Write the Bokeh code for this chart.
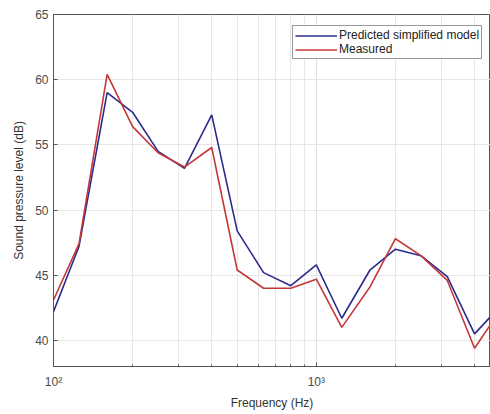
from bokeh.plotting import figure
from bokeh.models import FixedTicker, Range1d, Legend, LegendItem
from bokeh.embed import file_html
from bokeh.resources import INLINE

freq = [100, 125, 160, 200, 250, 315, 400, 500, 630, 800, 1000, 1250, 1600, 2000, 2500, 3150, 4000, 5000]
predicted = [42.2, 47.2, 59.0, 57.5, 54.5, 53.2, 57.3, 48.4, 45.2, 44.2, 45.8, 41.7, 45.4, 47.0, 46.5, 44.9, 40.5, 42.6]
measured = [43.1, 47.4, 60.4, 56.4, 54.4, 53.3, 54.8, 45.4, 44.0, 44.0, 44.7, 41.0, 44.1, 47.8, 46.5, 44.6, 39.4, 42.3]

x_major = [100, 1000]
x_minor = [200, 300, 400, 500, 600, 700, 800, 900, 2000, 3000, 4000]
x_labels = {100: "10²", 1000: "10³"}
y_ticks = [40, 45, 50, 55, 60, 65]

FONT = "Liberation Sans"

p = figure(width=490, height=412, x_axis_type="log", output_backend="svg",
           toolbar_location=None, x_range=Range1d(100, 4600), y_range=Range1d(38, 65),
           min_border_left=53, min_border_right=0, min_border_top=14, min_border_bottom=37)

p.xaxis.ticker = FixedTicker(ticks=x_major, minor_ticks=x_minor)
p.xaxis.major_label_overrides = x_labels
p.yaxis.ticker = FixedTicker(ticks=y_ticks)

for ax in (p.xaxis[0], p.yaxis[0]):
    ax.axis_line_color = "#555555"
    ax.major_tick_line_color = "#555555"
    ax.minor_tick_line_color = "#555555"
    ax.major_tick_in = 4
    ax.major_tick_out = 0
    ax.minor_tick_in = 2
    ax.minor_tick_out = 0
    ax.major_label_text_font = FONT
    ax.major_label_text_font_size = "12px"
    ax.major_label_text_color = "#4a4a4a"
    ax.axis_label_text_font = FONT
    ax.axis_label_text_font_size = "12px"
    ax.axis_label_text_font_style = "normal"
    ax.axis_label_text_color = "#333333"

p.yaxis.minor_tick_line_color = None
p.xaxis.axis_label = "Frequency (Hz)"
p.yaxis.axis_label = "Sound pressure level (dB)"
p.xaxis.major_label_standoff = 8
p.xaxis.axis_label_standoff = 4
p.yaxis.axis_label_standoff = 6

p.xgrid.grid_line_color = "#e0e0e0"
p.xgrid.minor_grid_line_color = "#e6e6e6"
p.ygrid.grid_line_color = "#e6e6e6"

p.outline_line_color = "#555555"
p.background_fill_color = "white"
p.border_fill_color = "white"

r1 = p.line(freq, predicted, line_color="#2b2b8f", line_width=1.6)
r2 = p.line(freq, measured, line_color="#c4383a", line_width=1.6)

legend = Legend(items=[LegendItem(label="Predicted simplified model", renderers=[r1]),
                       LegendItem(label="Measured", renderers=[r2])],
                location=(239, 307))
legend.label_text_font = FONT
legend.label_text_font_size = "12px"
legend.label_text_color = "#222222"
legend.glyph_width = 42
legend.glyph_height = 13
legend.label_height = 13
legend.spacing = 0
legend.padding = 2
legend.margin = 0
legend.label_standoff = 2
legend.border_line_color = "#333333"
legend.border_line_width = 1
p.add_layout(legend)

open("out.html", "w").write(file_html(p, INLINE))
